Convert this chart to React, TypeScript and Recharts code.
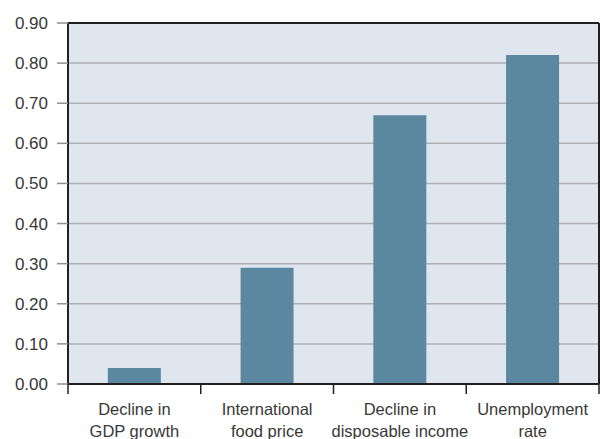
import { BarChart, Bar, XAxis, YAxis, CartesianGrid, ReferenceLine } from 'recharts'

const categories = ['Decline in\nGDP growth', 'International\nfood price', 'Decline in\ndisposable income', 'Unemployment\nrate']
const values = [0.04, 0.29, 0.67, 0.82]
const yTicks = [0, 0.1, 0.2, 0.3, 0.4, 0.5, 0.6, 0.7, 0.8, 0.9]

const data = categories.map((name, i) => ({ name, value: values[i] }))

const W = 600
const H = 439
const LEFT = 68
const RIGHT = 1
const BAND = (W - LEFT - RIGHT) / categories.length
const DARK = '#231f20'
const TEXT = '#383838'
const FONT = '"Liberation Sans", Arial, sans-serif'

// eslint-disable-next-line @typescript-eslint/no-explicit-any
function CategoryTick(props: any) {
  const { x, y, payload, index } = props
  const lines = String(payload.value).split('\n')
  const left = x - BAND / 2
  return (
    <g>
      <line x1={left} y1={y} x2={left} y2={y + 10} stroke={DARK} strokeWidth={1.5} />
      {index === categories.length - 1 && (
        <line x1={left + BAND} y1={y} x2={left + BAND} y2={y + 10} stroke={DARK} strokeWidth={1.5} />
      )}
      {lines.map((l, i) => (
        <text key={i} x={x} y={y + 31 + i * 22} textAnchor="middle" fontSize={16.5} fill={TEXT} fontFamily={FONT}>
          {l}
        </text>
      ))}
    </g>
  )
}

export default function App() {
  return (
    <div style={{ position: 'absolute', left: 0, top: 0, width: W, height: H, background: '#fff' }}>
      <BarChart
        width={W}
        height={H}
        data={data}
        margin={{ top: 23, right: 0, left: 0, bottom: 0 }}
        barCategoryGap="30%"
      >
        <CartesianGrid vertical={false} fill="#dfe6ee" stroke="#adafb4" strokeWidth={1.5} />
        <XAxis
          dataKey="name"
          height={55}
          interval={0}
          tickSize={0}
          tickMargin={0}
          tickLine={false}
          axisLine={{ stroke: DARK, strokeWidth: 2 }}
          tick={<CategoryTick />}
        />
        <YAxis
          domain={[0, 0.9]}
          ticks={yTicks}
          width={LEFT}
          tickSize={11}
          tickMargin={9}
          tickFormatter={(v: number) => v.toFixed(2)}
          tick={{ fontSize: 17, fill: TEXT, fontFamily: FONT }}
          tickLine={{ stroke: '#8f8f8f', strokeWidth: 1.5 }}
          axisLine={{ stroke: DARK, strokeWidth: 2 }}
        />
        <YAxis
          yAxisId="right"
          orientation="right"
          domain={[0, 0.9]}
          width={RIGHT}
          tick={false}
          tickLine={false}
          axisLine={{ stroke: DARK, strokeWidth: 2 }}
        />
        <ReferenceLine y={0.9} stroke={DARK} strokeWidth={2} />
        <Bar dataKey="value" fill="#5b87a1" isAnimationActive={false} />
      </BarChart>
    </div>
  )
}
